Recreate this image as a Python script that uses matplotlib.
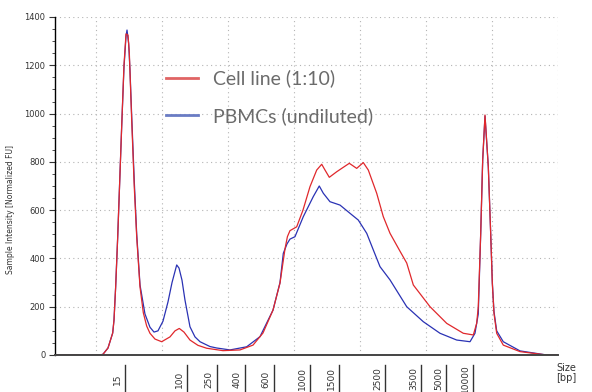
import matplotlib.pyplot as plt
from matplotlib.lines import Line2D
from matplotlib.ticker import MultipleLocator
import matplotlib.transforms as mtransforms

# migration time (s) and normalized fluorescence
cell_t = [23.79, 27.58, 30.61, 31.06, 31.82, 32.53, 32.73, 32.98, 33.29, 33.64, 33.89, 34.24,
          34.55, 34.85, 35.05, 35.41, 35.80, 36.17, 36.67, 37.17, 37.68, 38.18, 38.94, 39.95,
          41.21, 41.97, 42.62, 43.33, 44.24, 45.45, 46.77, 49.24, 51.82, 53.79, 55.30, 56.82,
          57.88, 58.64, 59.0, 59.39, 60.41, 61.36, 62.42, 63.44, 64.20, 64.70, 65.35, 66.47,
          67.23, 68.38, 69.50, 70.50, 71.26, 72.53, 73.53, 74.55, 76.06, 77.08, 78.08, 80.61,
          83.14, 85.65, 87.17, 87.68, 87.92, 88.29, 88.59, 88.94, 89.44, 89.80, 90.05, 90.30,
          90.71, 91.71, 94.24, 98.29, 100]
cell_fu = [0, 0, 0, 3, 29, 91, 145, 282, 489, 754, 944, 1200,
           1330, 1325, 1251, 973, 696, 489, 282, 175, 120, 90, 66, 55,
           75, 100, 110, 95, 62, 40, 28, 18, 21, 41, 91, 186,
           298, 440, 490, 515, 531, 600, 697, 766, 790, 766, 736, 759,
           773, 794, 773, 797, 766, 670, 573, 504, 430, 381, 290, 200,
           131, 90, 83, 131, 200, 504, 808, 994, 780, 504, 297, 173,
           90, 41, 14, 0, 0]

pbmc_t = [23.79, 27.58, 30.61, 31.06, 31.82, 32.53, 32.73, 32.98, 33.29, 33.64, 33.89, 34.24,
          34.55, 34.70, 34.95, 35.15, 35.41, 35.80, 36.17, 36.67, 37.42, 38.18, 38.79, 39.39,
          40.15, 40.91, 41.52, 42.23, 42.58, 43.03, 43.48, 44.24, 45.0, 45.76, 47.27, 48.29,
          50.30, 52.83, 54.85, 56.82, 57.88, 58.38, 58.94, 59.39, 60.15, 61.41, 62.92, 63.83,
          64.44, 65.45, 66.97, 68.48, 69.74, 71.02, 72.02, 73.03, 74.55, 77.08, 79.59, 82.12,
          84.65, 86.67, 87.42, 87.92, 88.29, 88.59, 88.94, 89.44, 89.80, 90.05, 90.30, 90.71,
          91.71, 94.24, 98.29, 100]
pbmc_fu = [0, 0, 0, 3, 29, 91, 145, 282, 489, 754, 944, 1190,
           1320, 1346, 1290, 1180, 990, 720, 500, 290, 170, 115, 95, 100,
           140, 220, 300, 373, 360, 310, 228, 117, 75, 55, 35, 29,
           21, 34, 76, 186, 300, 421, 460, 480, 490, 573, 656, 700,
           670, 635, 621, 587, 559, 504, 435, 366, 311, 200, 138, 90,
           62, 55, 90, 170, 504, 808, 990, 780, 504, 300, 180, 100,
           55, 17, 0, 0]

# ladder sizes and where they sit on the time axis
ladder_bp = ["15", "100", "250", "400", "600", "1000", "1500", "2500", "3500", "5000", "10000"]
ladder_t = [34.39, 43.79, 48.33, 52.58, 56.97, 62.42, 66.82, 73.79, 79.24, 83.03, 87.12]

fig = plt.figure(figsize=(5.92, 3.92), dpi=100)
ax = fig.add_axes([55/592, 1 - 355/392, 503/592, 338/392])

ax.plot(pbmc_t, pbmc_fu, color='#2a32b4', lw=0.9)
ax.plot(cell_t, cell_fu, color='#e0282c', lw=0.9)

ax.set_xlim(23.79, 100)
ax.set_ylim(0, 1400)
ax.set_xticks([30, 40, 50, 60, 70, 80, 90, 100])
ax.set_yticks(range(0, 1401, 200))
ax.yaxis.set_minor_locator(MultipleLocator(50))
ax.grid(True, color='#b4b4b4', linestyle=(0, (1, 3)), lw=0.8)
ax.tick_params(axis='x', length=0, labelbottom=False)
ax.tick_params(axis='y', which='major', length=4, labelsize=6, colors='#333333', pad=3)
ax.tick_params(axis='y', which='minor', length=2.5, color='#333333')
for s in ['top', 'right']:
    ax.spines[s].set_visible(False)
ax.spines['left'].set_color('black')
ax.spines['left'].set_linewidth(1.0)
ax.spines['bottom'].set_color('#444444')
ax.spines['bottom'].set_linewidth(1.4)

ax.set_ylabel('Sample Intensity [Normalized FU]', fontsize=5.5, color='#333333', labelpad=8)
ax.yaxis.set_label_coords(-0.079, 0.43)

# size ladder under the axis
trans = mtransforms.blended_transform_factory(ax.transData, fig.transFigure)
for bp, t in zip(ladder_bp, ladder_t):
    ax.plot([t, t], [1 - 365/392, 0], transform=trans, color='#333333', lw=1.0, clip_on=False)
    ax.annotate(bp, xy=(t, 1 - 379/392), xycoords=trans, xytext=(-5.5, 0), textcoords='offset points',
                rotation=90, ha='center', va='center', fontsize=6.5, color='#333333')
fig.text(556/592, 1 - 368/392, 'Size', fontsize=7, color='#333333', va='center')
fig.text(556/592, 1 - 378/392, '[bp]', fontsize=7, color='#333333', va='center')

handles = [Line2D([], [], color='#e06464', lw=2), Line2D([], [], color='#6a7cc4', lw=2)]
ax.legend(handles, ['Cell line (1:10)', 'PBMCs (undiluted)'], loc='upper left',
          bbox_to_anchor=(0.186, 0.896), frameon=False, labelcolor='#6b6b6b',
          handlelength=1.65, handletextpad=0.77, labelspacing=1.0, prop={'family': 'Lato', 'size': 14})

fig.savefig('out.png', dpi=100)
